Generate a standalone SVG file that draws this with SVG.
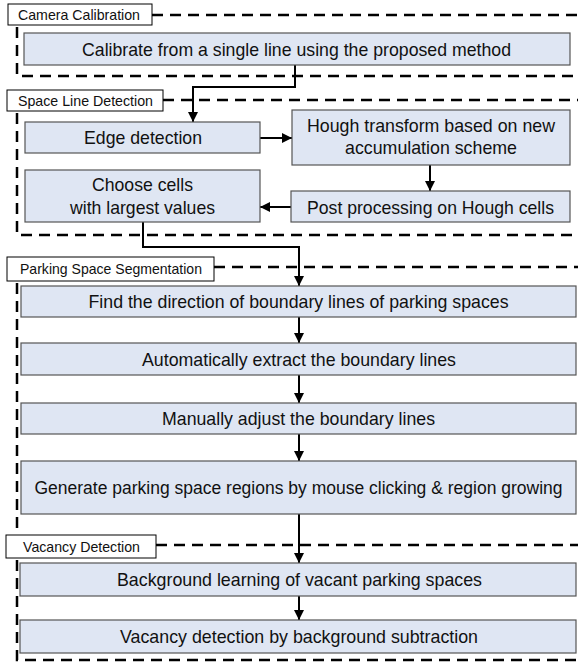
<svg xmlns="http://www.w3.org/2000/svg" width="578" height="662" viewBox="0 0 578 662">
<style>
.frame{fill:none;stroke:#000;stroke-width:2.5;stroke-dasharray:11 7}
.lbl{fill:#fff;stroke:#000;stroke-width:1}
.lt{font-family:"Liberation Sans",Arial,sans-serif;font-size:14.5px;fill:#111}
.box{fill:#dfe6f3;stroke:#555;stroke-width:1.2}
.bt{font-family:"Liberation Sans",Arial,sans-serif;font-size:19px;fill:#111;text-anchor:middle}
.conn{fill:none;stroke:#000;stroke-width:2}
</style>
<defs>
<marker id="ah" viewBox="0 0 10 10" refX="10" refY="5" markerWidth="5.5" markerHeight="5" orient="auto" markerUnits="strokeWidth">
<path d="M0,0 L10,5 L0,10 z" fill="#000"/>
</marker>
</defs>
<rect width="578" height="662" fill="#fff"/>

<g id="sections">
<path class="frame" d="M152,15 H578 M17,27 V76 H578"/>
<path class="frame" d="M163,100 H578 M17,113 V235 H578"/>
<path class="frame" d="M214,267 H578 M17,283 V534"/>
<path class="frame" d="M156,545 H578 M17,560 V660 H578"/>
</g>

<g id="label-camera"><rect class="lbl" x="8" y="4" width="144" height="21"/><text class="lt" x="18" y="19.5" textLength="122" lengthAdjust="spacingAndGlyphs">Camera Calibration</text></g>
<g id="label-space"><rect class="lbl" x="7" y="90" width="156" height="21"/><text class="lt" x="18" y="105.5" textLength="135" lengthAdjust="spacingAndGlyphs">Space Line Detection</text></g>
<g id="label-parking"><rect class="lbl" x="7" y="257" width="207" height="24"/><text class="lt" x="20" y="274" textLength="182" lengthAdjust="spacingAndGlyphs">Parking Space Segmentation</text></g>
<g id="label-vacancy"><rect class="lbl" x="6" y="535" width="150" height="23"/><text class="lt" x="23" y="551.5" textLength="117" lengthAdjust="spacingAndGlyphs">Vacancy Detection</text></g>

<g id="connectors">
<path class="conn" d="M295,65 V87 H193 V122" marker-end="url(#ah)"/>
<path class="conn" d="M260,138 H292" marker-end="url(#ah)"/>
<path class="conn" d="M430,165 V191" marker-end="url(#ah)"/>
<path class="conn" d="M291,207 H260" marker-end="url(#ah)"/>
<path class="conn" d="M143,222 V247 H299 V286" marker-end="url(#ah)"/>
<path class="conn" d="M299,317 V343" marker-end="url(#ah)"/>
<path class="conn" d="M299,375 V403" marker-end="url(#ah)"/>
<path class="conn" d="M299,434 V461" marker-end="url(#ah)"/>
<path class="conn" d="M299,514 V563" marker-end="url(#ah)"/>
<path class="conn" d="M299,596 V620" marker-end="url(#ah)"/>
</g>

<g id="calibrate"><rect class="box" x="24" y="33" width="546" height="32"/><text class="bt" x="296.5" y="55.5" textLength="429" lengthAdjust="spacingAndGlyphs">Calibrate from a single line using the proposed method</text></g>
<g id="edge"><rect class="box" x="25" y="122" width="235" height="31"/><text class="bt" x="143" y="144" textLength="118" lengthAdjust="spacingAndGlyphs">Edge detection</text></g>
<g id="hough"><rect class="box" x="292" y="110" width="278" height="55"/><text class="bt" x="431" y="132" textLength="248" lengthAdjust="spacingAndGlyphs">Hough transform based on new</text><text class="bt" x="431" y="153.5" textLength="172" lengthAdjust="spacingAndGlyphs">accumulation scheme</text></g>
<g id="choose"><rect class="box" x="25" y="170" width="235" height="52"/><text class="bt" x="142.5" y="191" textLength="101" lengthAdjust="spacingAndGlyphs">Choose cells</text><text class="bt" x="142.5" y="213.5" textLength="145" lengthAdjust="spacingAndGlyphs">with largest values</text></g>
<g id="post"><rect class="box" x="291" y="191" width="279" height="31"/><text class="bt" x="430.5" y="213.5" textLength="247" lengthAdjust="spacingAndGlyphs">Post processing on Hough cells</text></g>
<g id="find"><rect class="box" x="21" y="286" width="555" height="31"/><text class="bt" x="298.5" y="308" textLength="420" lengthAdjust="spacingAndGlyphs">Find the direction of boundary lines of parking spaces</text></g>
<g id="auto"><rect class="box" x="21" y="343" width="555" height="32"/><text class="bt" x="299" y="365.5" textLength="314" lengthAdjust="spacingAndGlyphs">Automatically extract the boundary lines</text></g>
<g id="manual"><rect class="box" x="21" y="403" width="555" height="31"/><text class="bt" x="298.5" y="425" textLength="273" lengthAdjust="spacingAndGlyphs">Manually adjust the boundary lines</text></g>
<g id="generate"><rect class="box" x="21" y="461" width="555" height="53"/><text class="bt" x="298.5" y="493.5" style="font-size:17.5px" textLength="528" lengthAdjust="spacingAndGlyphs">Generate parking space regions by mouse clicking &amp; region growing</text></g>
<g id="background"><rect class="box" x="20" y="563" width="556" height="33"/><text class="bt" x="299.5" y="586" textLength="365" lengthAdjust="spacingAndGlyphs">Background learning of vacant parking spaces</text></g>
<g id="vacancy"><rect class="box" x="20" y="620" width="556" height="33"/><text class="bt" x="299" y="643" textLength="358" lengthAdjust="spacingAndGlyphs">Vacancy detection by background subtraction</text></g>
</svg>
